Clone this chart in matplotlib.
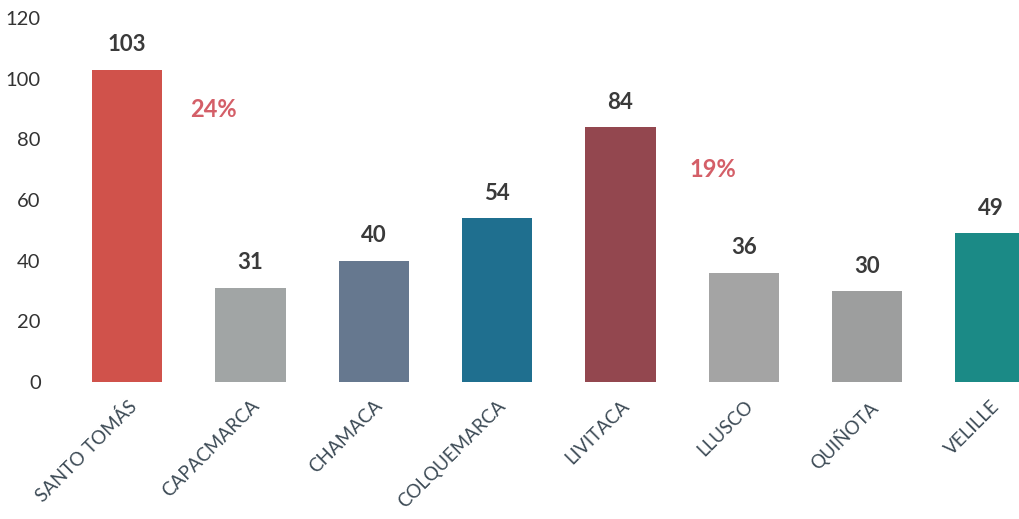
import matplotlib.pyplot as plt

plt.rcParams['font.family'] = ['Lato', 'DejaVu Sans']

districts = ["SANTO TOMÁS", "CAPACMARCA", "CHAMACA", "COLQUEMARCA",
             "LIVITACA", "LLUSCO", "QUIÑOTA", "VELILLE"]
counts = [103, 31, 40, 54, 84, 36, 30, 49]
colors = ["#d0524b", "#a1a5a5", "#66788f", "#1f6f8f",
          "#93474f", "#a4a4a4", "#9d9e9e", "#1b8a86"]
pct_labels = ["24%", "19%"]
pct_pos = [(0.70, 90), (4.75, 70)]

fig = plt.figure(figsize=(10.19, 5.19), dpi=100)
ax = fig.add_axes([0.059, 0.264, 0.941, 0.701])

x = range(len(districts))
ax.bar(x, counts, width=0.57, color=colors)

for i, v in zip(x, counts):
    ax.annotate(str(v), (i, v), xytext=(0, 18), textcoords="offset points",
                ha="center", va="center", fontsize=16, fontweight="bold",
                color="#3a3a3a")

for lab, (px, py) in zip(pct_labels, pct_pos):
    ax.text(px, py, lab, ha="center", va="center", fontsize=17,
            fontweight="bold", color="#d45f68")

ax.set_xlim(-0.543, 7.23)
ax.set_ylim(0, 120)
ax.set_yticks(range(0, 121, 20))
ax.tick_params(axis="y", length=0, labelsize=14.5, labelcolor="#333333", pad=14)
ax.set_xticks(list(x))
ax.set_xticklabels(districts, rotation=45, ha="right", rotation_mode="anchor",
                   fontsize=13.5, color="#3c4a55")
ax.tick_params(axis="x", length=0, pad=11)
for s in ax.spines.values():
    s.set_visible(False)

fig.savefig("out.png")
